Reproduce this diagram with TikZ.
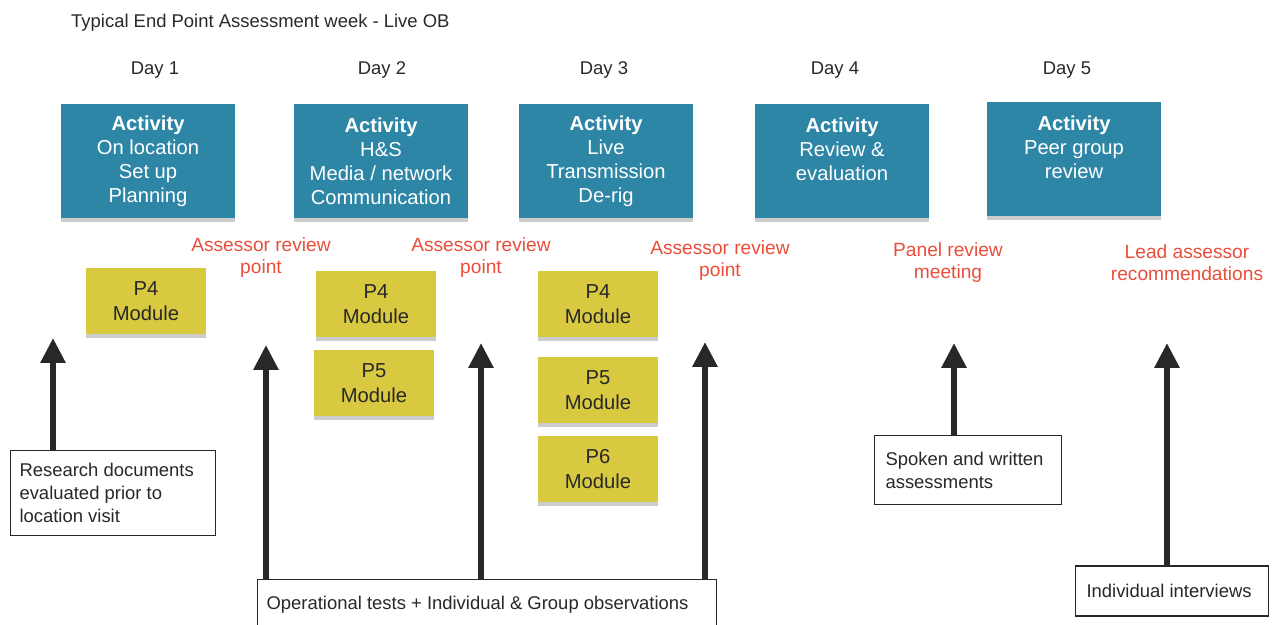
\documentclass[tikz,border=0pt]{standalone}
\usepackage{fontspec}
\setmainfont{Liberation Sans}
\usepackage{xcolor}
\usetikzlibrary{arrows.meta,shadows}

\definecolor{actblue}{RGB}{46,134,166}
\definecolor{modyellow}{RGB}{217,201,64}
\definecolor{reviewred}{RGB}{234,78,58}
\definecolor{inkgray}{RGB}{40,40,40}

\begin{document}
\begin{tikzpicture}[x=0.02cm, y=-0.02cm,
		daylabel/.style={text=inkgray, font=\fontsize{10.5}{12}\selectfont},
		actbox/.style={fill=actblue, text=white, minimum width=3.48cm, minimum height=2.3cm, inner sep=0pt, align=center,
			font=\fontsize{11.5}{13.6}\selectfont, drop shadow={opacity=0.4, shadow xshift=0pt, shadow yshift=-2pt}},
		modbox/.style={fill=modyellow, text=inkgray, minimum width=2.4cm, minimum height=1.34cm, inner sep=0pt, align=center,
			font=\fontsize{11.5}{14.5}\selectfont, drop shadow={opacity=0.4, shadow xshift=0pt, shadow yshift=-2pt}},
		review/.style={text=reviewred, align=center, font=\fontsize{10.9}{12.5}\selectfont},
		notebox/.style={draw=inkgray, line width=0.8pt, fill=white, text=inkgray, align=flush left, inner ysep=0pt,
			font=\fontsize{10.5}{13}\selectfont},
		uparrow/.style={inkgray, line width=0.12cm, -{Triangle[width=0.48cm, length=0.5cm]}}
	]

	\path[use as bounding box] (0,0) rectangle (1272,625);
	\clip (0,0) rectangle (1272,625);

	\node[daylabel, anchor=west] (title) at (65,23) {Typical End Point Assessment week - Live OB};

	\node[daylabel] (day1) at (155,70) {Day 1};
	\node[daylabel] (day2) at (382,70) {Day 2};
	\node[daylabel] (day3) at (604,70) {Day 3};
	\node[daylabel] (day4) at (835,70) {Day 4};
	\node[daylabel] (day5) at (1067,70) {Day 5};

	\node[actbox] (act1) at (148,161) {\textbf{Activity}\\On location\\Set up\\Planning};
	\node[actbox] (act2) at (381,161) {\textbf{Activity}\\H\&S\\Media / network\\Communication};
	\node[actbox] (act3) at (606,161) {\textbf{Activity}\\Live\\Transmission\\De-rig};
	\node[actbox] (act4) at (842,161) {\textbf{Activity}\\Review \&\\evaluation\\~};
	\node[actbox] (act5) at (1074,159) {\textbf{Activity}\\Peer group\\review\\~};

	\node[review] (rev1) at (261,258) {Assessor review\\point};
	\node[review] (rev2) at (481,258) {Assessor review\\point};
	\node[review] (rev3) at (720,261) {Assessor review\\point};
	\node[review] (rev4) at (948,263) {Panel review\\meeting};
	\node[review] (rev5) at (1187,263) {Lead assessor\\recommendations};

	\node[modbox] (mod1) at (146,301) {P4\\Module};
	\node[modbox] (mod2a) at (376,304) {P4\\Module};
	\node[modbox] (mod2b) at (374,383) {P5\\Module};
	\node[modbox] (mod3a) at (598,304) {P4\\Module};
	\node[modbox] (mod3b) at (598,390) {P5\\Module};
	\node[modbox] (mod3c) at (598,469) {P6\\Module};

	\node[notebox, minimum width=4.1cm, minimum height=1.7cm, text width=3.74cm, inner xsep=0.18cm] (research) at (113,493)
		{Research documents\\evaluated prior to\\location visit};
	\node[notebox, anchor=north, minimum width=9.18cm, minimum height=1.0cm, text width=8.82cm, inner xsep=0.18cm] (tests) at (487,579)
		{Operational tests + Individual \& Group observations};
	\node[notebox, minimum width=3.74cm, minimum height=1.38cm, text width=3.3cm, inner xsep=0.22cm] (spoken) at (968,470)
		{Spoken and written\\assessments};
	\node[notebox, minimum width=3.86cm, minimum height=1.0cm, text width=3.42cm, inner xsep=0.22cm] (interviews) at (1172,591)
		{Individual interviews};

	\coordinate (tip1) at (53,338);
	\coordinate (tip2) at (266,345);
	\coordinate (tip3) at (481,343);
	\coordinate (tip4) at (705,342);
	\coordinate (tip5) at (954,343);
	\coordinate (tip6) at (1167,343);

	\draw[uparrow] (tip1 |- research.north) -- (tip1);
	\draw[uparrow] (tip2 |- tests.north) -- (tip2);
	\draw[uparrow] (tip3 |- tests.north) -- (tip3);
	\draw[uparrow] (tip4 |- tests.north) -- (tip4);
	\draw[uparrow] (tip5 |- spoken.north) -- (tip5);
	\draw[uparrow] (tip6 |- interviews.north) -- (tip6);

\end{tikzpicture}
\end{document}
